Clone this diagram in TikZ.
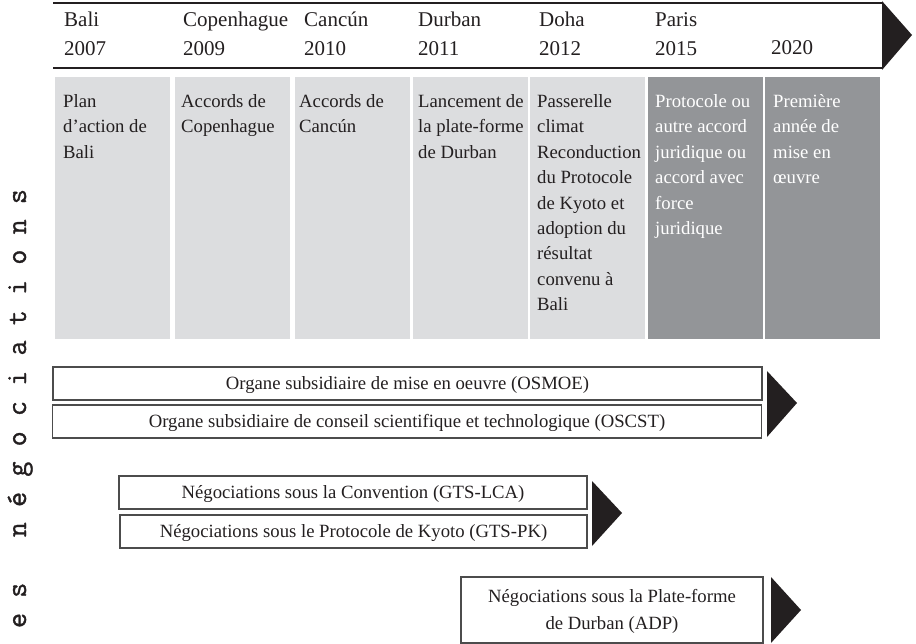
\documentclass[tikz,border=0pt]{standalone}
\usepackage{fontspec}
\setmainfont{Liberation Serif}
\newfontfamily\vertfont[FakeBold=1]{Latin Modern Mono}
\definecolor{lightbox}{HTML}{DCDDDF}
\definecolor{darkbox}{HTML}{939598}
\definecolor{ink}{HTML}{231F20}
\newcommand\coltxt[1]{\parbox[t]{112pt}{\raggedright #1}}
\begin{document}
\begin{tikzpicture}[x=1pt,y=-1pt,
  hdr/.style={anchor=base west, inner sep=0, font=\fontsize{21}{28.3}\selectfont, text=ink},
  colbox/.style={draw=none, minimum width=115pt, minimum height=262pt, inner sep=0, anchor=north west},
  lightcol/.style={colbox, fill=lightbox},
  darkcol/.style={colbox, fill=darkbox},
  coltext/.style={anchor=base west, inner sep=0, font=\fontsize{18.7}{25.4}\selectfont, text=ink},
  darktext/.style={coltext, text=white},
  bar/.style={draw=black!70, line width=1.3pt, inner sep=0, font=\fontsize{18.7}{26.5}\selectfont, text=ink, text height=12.9pt, text depth=0.5pt},
  tip/.style={fill=ink, draw=none},
  rule/.style={draw=ink, line width=2pt}
]
\useasboundingbox (0,0) rectangle (916,644);

% header timeline
\coordinate (tl1) at (53,3);
\coordinate (tr1) at (882,3);
\coordinate (tl2) at (53,68);
\coordinate (tr2) at (882,68);
\draw[rule] (tl1) -- (tr1);
\draw[rule] (tl2) -- (tr2);
\fill[tip] (882,1) -- (912,35) -- (882,70) -- cycle;

\node[hdr] (hBali) at (64,27) {\coltxt{Bali\\2007}};
\node[hdr] (hCop) at (183,27) {\coltxt{Copenhague\\2009}};
\node[hdr] (hCan) at (304,27) {\coltxt{Cancún\\2010}};
\node[hdr] (hDur) at (418,27) {\coltxt{Durban\\2011}};
\node[hdr] (hDoh) at (539,27) {\coltxt{Doha\\2012}};
\node[hdr] (hPar) at (655,27) {\coltxt{Paris\\2015}};
\node[hdr] (hFut) at (771,55) {2020};

% columns
\node[lightcol] (b1) at (55,77) {};
\node[lightcol] (b2) at (175,77) {};
\node[lightcol] (b3) at (295,77) {};
\node[lightcol] (b4) at (413,77) {};
\node[lightcol] (b5) at (530,77) {};
\node[darkcol] (b6) at (648,77) {};
\node[darkcol] (b7) at (765,77) {};

\node[coltext] (t1) at (63,107.5) {\coltxt{Plan\\d’action de\\Bali}};
\node[coltext] (t2) at (181,107.5) {\coltxt{Accords de\\Copenhague}};
\node[coltext] (t3) at (299,107.5) {\coltxt{Accords de\\Cancún}};
\node[coltext] (t4) at (418,107.5) {\coltxt{Lancement de\\la plate-forme\\de Durban}};
\node[coltext] (t5) at (537,107.5) {\coltxt{Passerelle\\climat\\Reconduction\\du Protocole\\de Kyoto et\\adoption du\\résultat\\convenu à\\Bali}};
\node[darktext] (t6) at (655,107.5) {\coltxt{Protocole ou\\autre accord\\juridique ou\\accord avec\\force\\juridique}};
\node[darktext] (t7) at (773,107.5) {\coltxt{Première\\année de\\mise en\\œuvre}};

% bars
\node[bar, minimum width=709pt, minimum height=33pt] (osmoe) at (407.5,383.5) {Organe subsidiaire de mise en oeuvre (OSMOE)};
\node[bar, minimum width=709pt, minimum height=33pt] (oscst) at (407,421.5) {Organe subsidiaire de conseil scientifique et technologique (OSCST)};
\fill[tip] (767,371) -- (797,403) -- (767,437) -- cycle;

\node[bar, minimum width=468pt, minimum height=33pt] (lca) at (353,492.5) {Négociations sous la Convention (GTS-LCA)};
\node[bar, minimum width=467pt, minimum height=33pt] (pk) at (353.5,531.5) {Négociations sous le Protocole de Kyoto (GTS-PK)};
\fill[tip] (592,481) -- (622,513) -- (592,546) -- cycle;

\node[bar, minimum width=302pt, minimum height=66pt, align=center, text height=39.4pt] (adp) at (612,610) {Négociations sous la Plate-forme\\de Durban (ADP)};
\fill[tip] (771,577) -- (801,610) -- (771,643) -- cycle;

% vertical label
\node[rotate=90, anchor=base, inner sep=0, font=\vertfont\fontsize{29.4}{30}\selectfont, text=ink] (vt) at (26,408.5) {e~s~~~n~é~g~o~c~i~a~t~i~o~n~s};
\end{tikzpicture}
\end{document}
